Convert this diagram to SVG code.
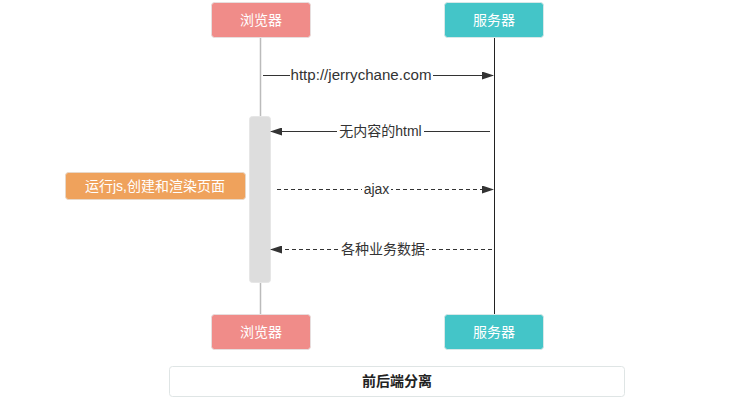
<svg xmlns="http://www.w3.org/2000/svg" width="755" height="400" viewBox="0 0 755 400">
<style>
text{font-family:"Liberation Sans","Noto Sans CJK SC",sans-serif;font-size:14px;}
.actor text{fill:#fff;font-size:14px;text-anchor:middle;}
.b rect{fill:#f08c89;stroke:#e7dede;stroke-width:1;}
.s rect{fill:#44c5c8;stroke:#d8e8e8;stroke-width:1;}
.lbl{fill:#333;text-anchor:middle;}
.msg{stroke:#333;stroke-width:1;fill:none;}
.dash{stroke-dasharray:4,3;}
</style>
<defs>
<marker id="ah" markerWidth="12" markerHeight="8" refX="11" refY="4" orient="auto" markerUnits="userSpaceOnUse">
<path d="M0,0 L12,4 L0,8 z" fill="#333"/>
</marker>
</defs>
<g id="lifelines">
<line x1="260.5" y1="38" x2="260.5" y2="314" stroke="#bbb" stroke-width="1.5"/>
<line x1="494.5" y1="38" x2="494.5" y2="314" stroke="#222" stroke-width="1"/>
</g>
<g id="activation">
<rect x="249.5" y="116.5" width="21" height="166" rx="3" fill="#ddd" stroke="#e6e6e6"/>
</g>
<g id="browser-top" class="actor b"><rect x="211.5" y="2.5" width="99" height="35" rx="3"/><text x="261" y="25">浏览器</text></g>
<g id="server-top" class="actor s"><rect x="444.5" y="2.5" width="99" height="35" rx="3"/><text x="494" y="25">服务器</text></g>
<g id="browser-bottom" class="actor b"><rect x="211.5" y="314.5" width="99" height="35" rx="3"/><text x="261" y="337">浏览器</text></g>
<g id="server-bottom" class="actor s"><rect x="444.5" y="314.5" width="99" height="35" rx="3"/><text x="494" y="337">服务器</text></g>
<g id="note"><rect x="65.5" y="172.5" width="180" height="27" rx="3" fill="#efa25c" stroke="#e8d8c8"/><text x="155" y="191" fill="#fff" text-anchor="middle" font-size="13.5">运行js,创建和渲染页面</text></g>
<g id="connectors">
<line class="msg" x1="263" y1="75.5" x2="493" y2="75.5" marker-end="url(#ah)"/>
<rect x="290" y="67" width="143" height="17" fill="#fff"/>
<text class="lbl" x="361" y="80" textLength="141" lengthAdjust="spacingAndGlyphs">http://jerrychane.com</text>
<line class="msg" x1="490" y1="131.5" x2="271" y2="131.5" marker-end="url(#ah)"/>
<rect x="337" y="123" width="87" height="17" fill="#fff"/>
<text class="lbl" x="380.5" y="136">无内容的html</text>
<line class="msg dash" x1="277" y1="189.5" x2="493" y2="189.5" marker-end="url(#ah)"/>
<rect x="362" y="181" width="29" height="17" fill="#fff"/>
<text class="lbl" x="376.5" y="194">ajax</text>
<line class="msg dash" x1="492" y1="249.5" x2="271" y2="249.5" marker-end="url(#ah)"/>
<rect x="341" y="241" width="85" height="17" fill="#fff"/>
<text class="lbl" x="383" y="254">各种业务数据</text>
</g>
<g id="title"><rect x="169.5" y="366.5" width="455" height="30" rx="3" fill="#fff" stroke="#dfe5e5"/><text x="397" y="386" fill="#222" text-anchor="middle" font-weight="bold">前后端分离</text></g>
</svg>
